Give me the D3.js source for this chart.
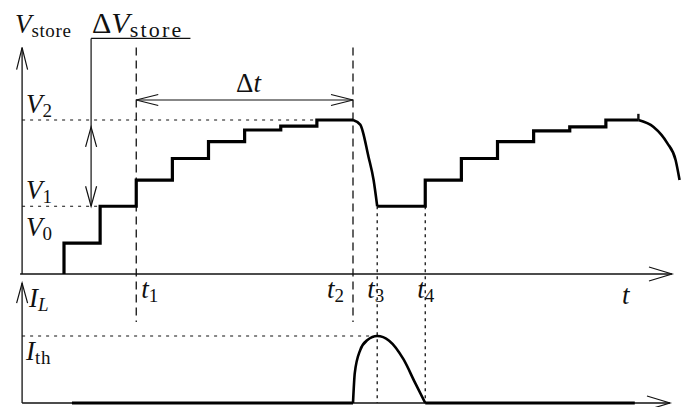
<!DOCTYPE html>
<html>
<head>
<meta charset="utf-8">
<script src="https://cdn.jsdelivr.net/npm/d3@7"></script>
<style>
  body { margin: 0; background: #fff; }
  text { font-family: "Liberation Serif", serif; fill: #111; }
</style>
</head>
<body>
<script>
// time axis is in "charge steps" (one step = 1), voltage is relative to V2, current relative to I_th
const stepTimes1 = [0, 0, 1, 2, 3, 4, 5, 6, 7, 8];
const stepLevels1 = [0, 0.2, 0.44, 0.61, 0.75, 0.86, 0.935, 0.96, 1.0, 1.0];

const dischargeTimes = [8, 8.2, 8.43, 8.57, 8.67];
const dischargeLevels = [1.0, 0.97, 0.76, 0.61, 0.44];

const stepTimes2 = [8.67, 10, 11, 12, 13, 14, 15, 15.9];
const stepLevels2 = [0.44, 0.61, 0.75, 0.86, 0.93, 0.955, 1.0, 1.0];

const tailTimes = [15.9, 16.32, 16.7, 16.93, 17.04];
const tailLevels = [1.0, 0.955, 0.85, 0.74, 0.61];

const pulseTimes = [8, 8.05, 8.2, 8.4, 8.67, 9.0, 9.4, 9.72, 10];
const pulseLevels = [0, 0.45, 0.79, 0.94, 1.0, 0.93, 0.65, 0.3, 0];

const baseSegments = [[0.22, 8], [10, 15.8]];

const markNames = ["1", "2", "3", "4"];
const markTimes = [2, 8, 8.67, 10];

const levelNames = ["0", "1", "2"];
const levelValues = [0.2, 0.44, 1.0];

const width = 688;
const height = 407;

const x = d3.scaleLinear([0, 8], [64, 353]);
const yV = d3.scaleLinear([0, 1], [274, 120]);
const yI = d3.scaleLinear([0, 1], [403, 336]);

const tStart = -1.16, tEnd = 16.83;

const svg = d3.select("body").append("svg")
    .attr("width", width)
    .attr("height", height)
    .attr("viewBox", [0, 0, width, height]);

const ink = "#111";

function seg(x1, y1, x2, y2, w, dash) {
  svg.append("line")
      .attr("x1", x1).attr("y1", y1).attr("x2", x2).attr("y2", y2)
      .attr("stroke", ink)
      .attr("stroke-width", w)
      .attr("stroke-dasharray", dash || null);
}

// open chevron arrow head, tip at (tx,ty) pointing along angle a
function head(tx, ty, a, len = 20, half = 5.5) {
  const c = Math.cos(a), s = Math.sin(a);
  const bx = tx - c * len, by = ty - s * len;
  const p = [[bx - s * half, by + c * half], [tx, ty], [bx + s * half, by - c * half]];
  svg.append("path")
      .attr("d", d3.line()(p))
      .attr("fill", "none")
      .attr("stroke", ink)
      .attr("stroke-width", 1.2);
}

// axes
seg(x(tStart) - 2, yV(0), x(tEnd), yV(0), 1.3);
head(x(tEnd), yV(0), 0, 23, 7);
seg(x(tStart), yV(0), x(tStart), yV(1.47), 1.3);
head(x(tStart), yV(1.47), -Math.PI / 2, 22, 5.5);

seg(x(tStart), yI(0), x(tEnd) - 2, yI(0), 1.3);
head(x(tEnd) - 2, yI(0), 0, 23, 7);
seg(x(tStart), yI(0), x(tStart), yI(1.79), 1.3);
head(x(tStart), yI(1.79), -Math.PI / 2, 20, 5.5);

// guide lines
seg(x(tStart), yV(1), x(8), yV(1), 1.1, "3,5");
seg(x(tStart), yV(0.44), x(1), yV(0.44), 1.1, "3,5");
seg(x(tStart), yI(1), x(8.6), yI(1), 1.1, "3,5");

markTimes.forEach((t, i) => {
  if (i < 2) seg(x(t), yV(1.47), x(t), yI(1.21), 1.3, "8,5");
  else seg(x(t), yV(0.44), x(t), yI(0), 1.3, "3,4");
});

// Δt arrow
seg(x(2), yV(1.13), x(8), yV(1.13), 1.2);
head(x(2), yV(1.13), Math.PI, 22, 5.5);
head(x(8), yV(1.13), 0, 22, 5.5);

// ΔV_store bracket + double arrow
seg(x(0.75), yV(1.53), x(3.5), yV(1.53), 1.3);
seg(x(0.75), yV(1.53), x(0.75), yV(0.44), 1.2);
head(x(0.75), yV(0.955), -Math.PI / 2, 20, 5.5);
head(x(0.75), yV(0.44), Math.PI / 2, 20, 5.5);

// curves
const stair = d3.line().x(d => x(d[0])).y(d => yV(d[1])).curve(d3.curveStepAfter);
const smoothV = d3.line().x(d => x(d[0])).y(d => yV(d[1])).curve(d3.curveMonotoneX);
const smoothI = d3.line().x(d => x(d[0])).y(d => yI(d[1])).curve(d3.curveMonotoneX);

function draw(d, w) {
  svg.append("path").attr("d", d).attr("fill", "none")
      .attr("stroke", "#000").attr("stroke-width", w)
      .attr("stroke-linejoin", "miter");
}

draw(stair(d3.zip(stepTimes1, stepLevels1)), 3.2);
draw(smoothV(d3.zip(dischargeTimes, dischargeLevels)), 2.6);
draw(stair(d3.zip(stepTimes2, stepLevels2)), 3.2);
draw(smoothV(d3.zip(tailTimes, tailLevels)), 2.6);
seg(x(15.9), yV(1.0), x(15.9), yV(1.04), 2.4);

baseSegments.forEach(([a, b]) => draw(smoothI([[a, 0], [b, 0]]), 3.2));
draw(smoothI(d3.zip(pulseTimes, pulseLevels)), 2.6);

// labels
function label(px, py, parts, size = 27, subSize = 19, subSpace = 0.6) {
  const t = svg.append("text").attr("x", px).attr("y", py).attr("font-size", size);
  parts.forEach(p => {
    const s = t.append("tspan").text(p.t);
    if (p.it) s.attr("font-style", "italic");
    if (p.sub) s.attr("font-size", subSize).attr("dy", 4).attr("letter-spacing", subSpace);
  });
}

label(15, 33, [{t: "V", it: true}, {t: "store", sub: true}]);
label(92, 33, [{t: "Δ"}, {t: "V", it: true}, {t: "store", sub: true}], 30, 22, 2.2);
label(236, yV(1.13) - 8, [{t: "Δ"}, {t: "t", it: true}]);

levelNames.forEach((n, i) => {
  label(26, yV(levelValues[i]) - 7, [{t: "V", it: true}, {t: n, sub: true}]);
});

label(29, 307, [{t: "I", it: true}, {t: "L", it: true, sub: true}]);
label(26, yI(1) + 24, [{t: "I", it: true}, {t: "th", sub: true}]);

const markOffsets = [5, -26, -10, -8];
markNames.forEach((n, i) => {
  label(x(markTimes[i]) + markOffsets[i], 298, [{t: "t", it: true}, {t: n, sub: true}]);
});
label(622, 304, [{t: "t", it: true}]);
</script>
</body>
</html>
